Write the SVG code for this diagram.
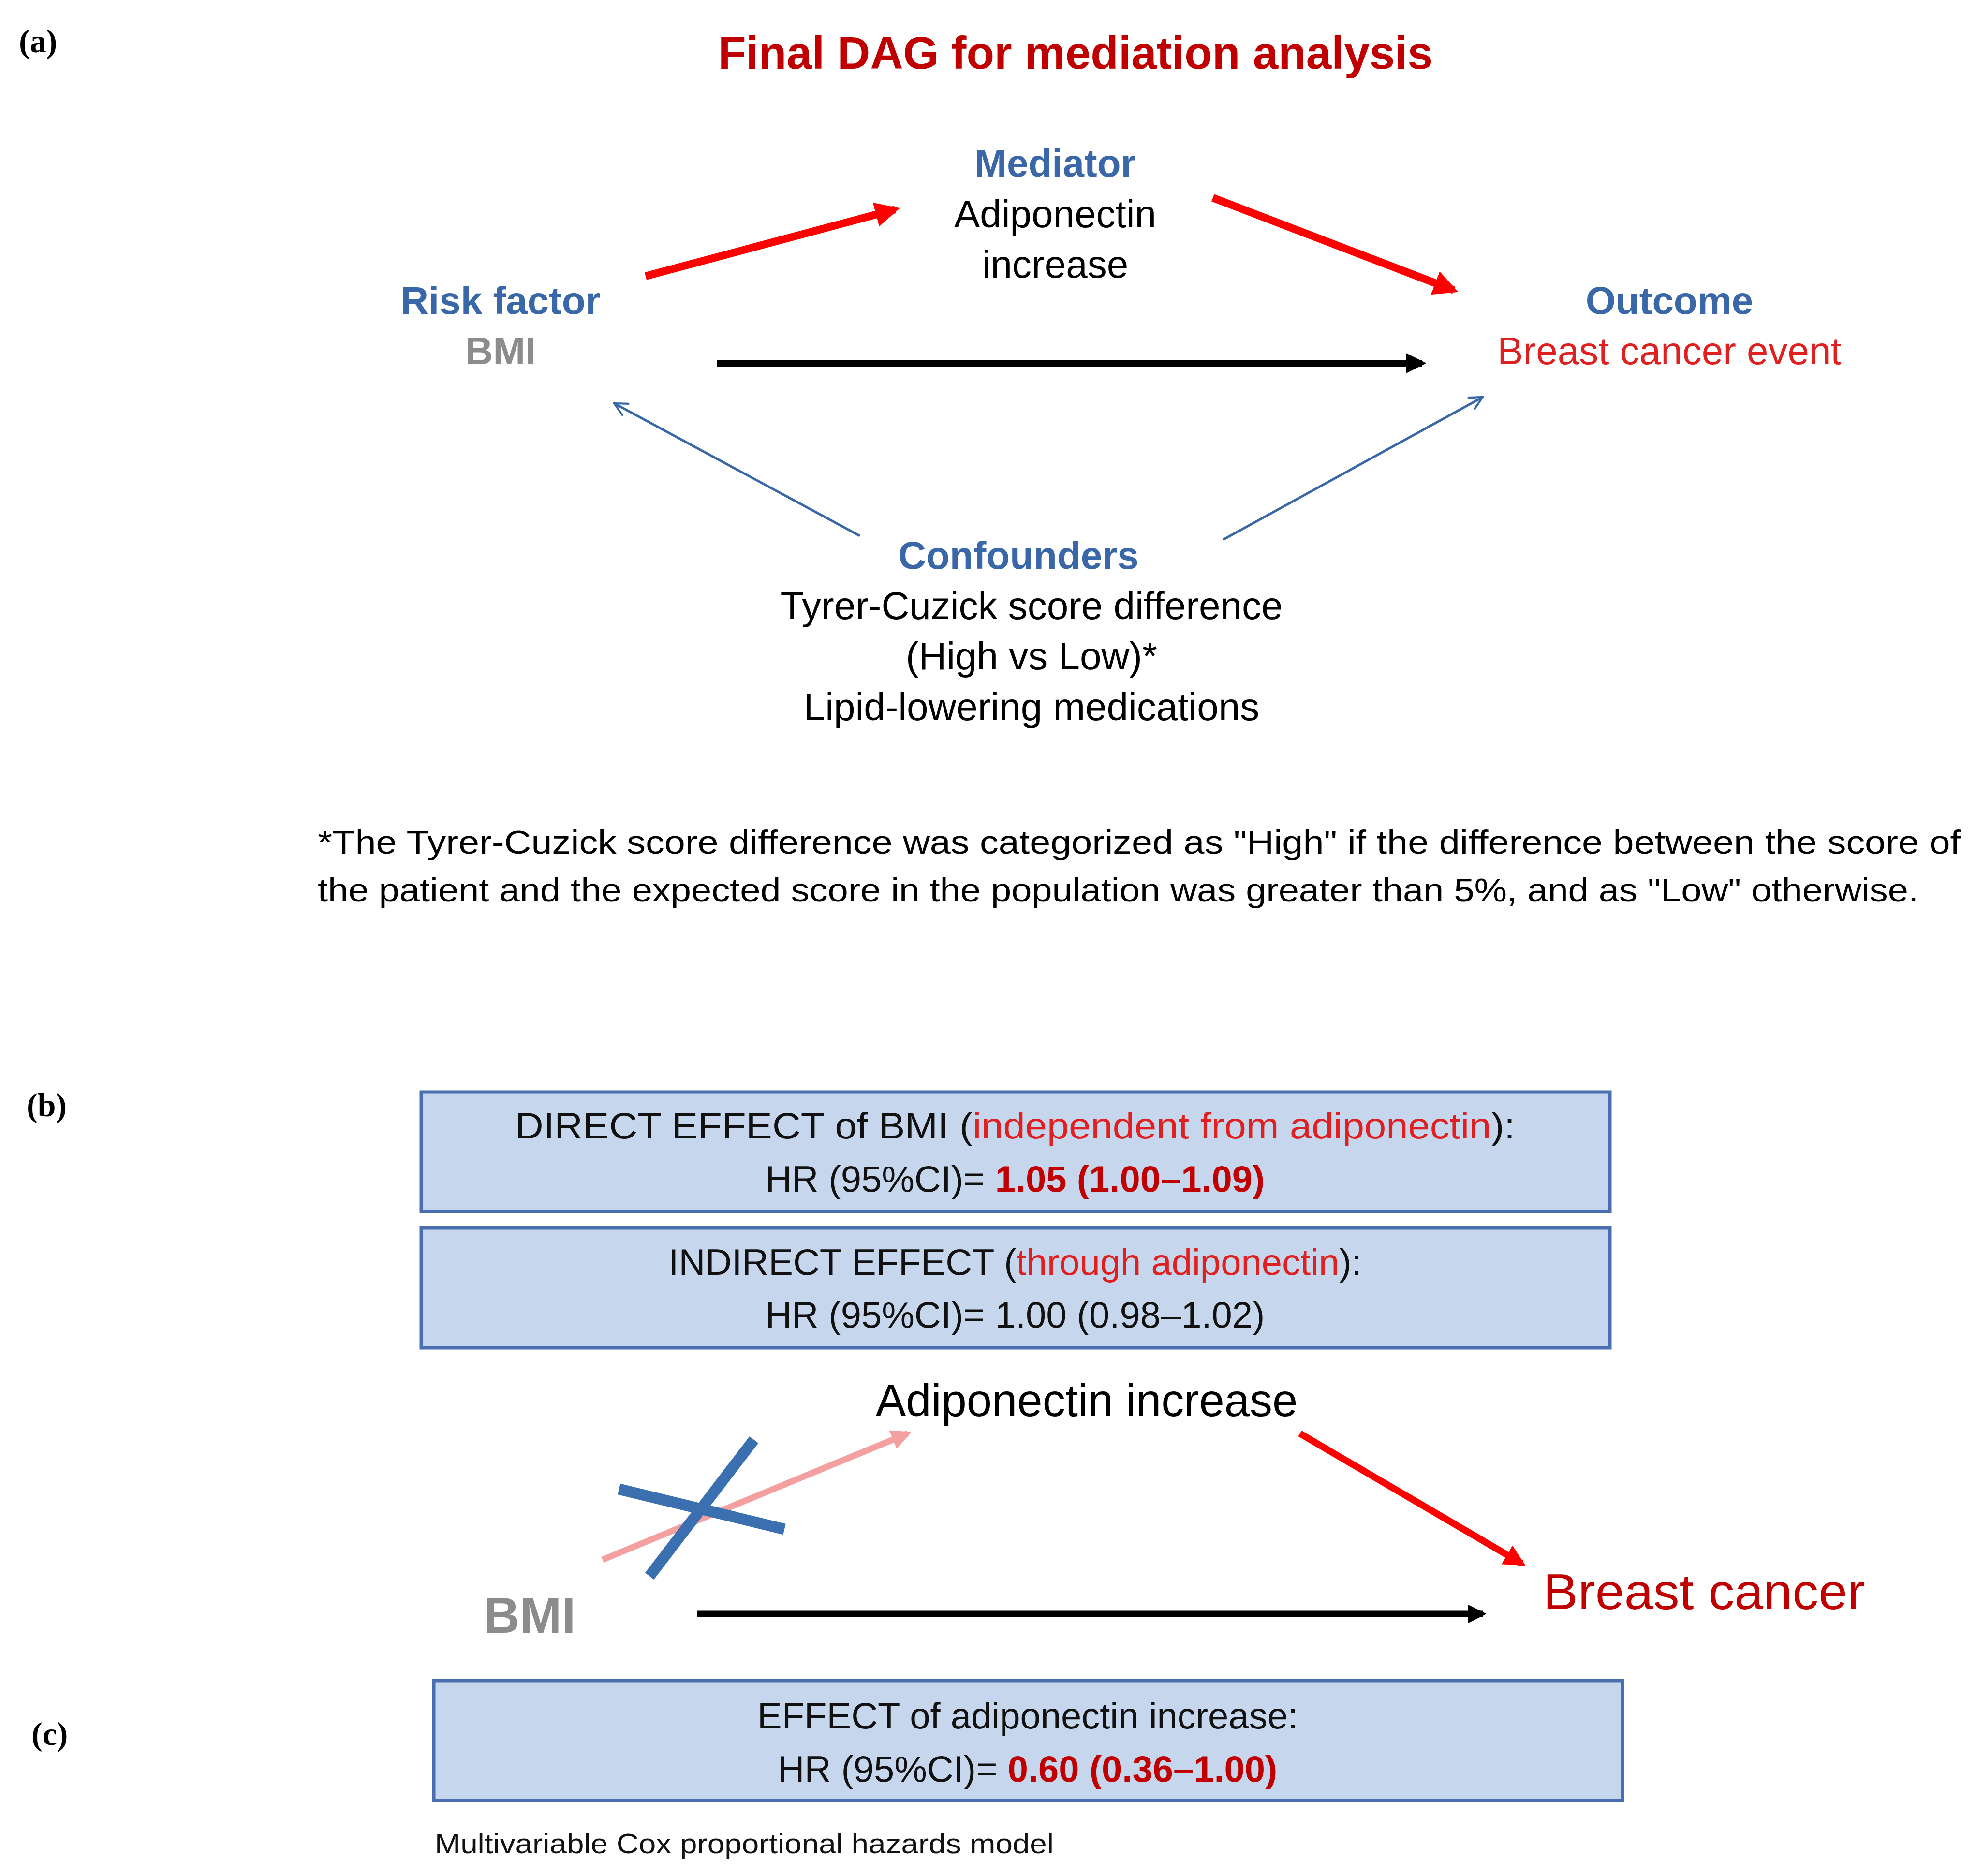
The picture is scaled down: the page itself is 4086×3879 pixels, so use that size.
<svg xmlns="http://www.w3.org/2000/svg" width="4086" height="3879" viewBox="0 0 4086 3879">
<style>
text{font-family:"Liberation Sans",Arial,sans-serif}
.lbl{font-family:"Liberation Serif","Times New Roman",serif;font-weight:bold;font-size:68px}
.hd{fill:#3a67a8;font-weight:bold;font-size:80px;text-anchor:middle}
.bk{fill:#000;font-size:80px;text-anchor:middle}
.box{fill:#c6d6ec;stroke:#4a6fb0;stroke-width:7}
.bt{font-size:76px;text-anchor:middle;fill:#111}
.r{fill:#e02020}
.rb{fill:#c00000;font-weight:bold}
</style>
<defs>
<marker id="tri" viewBox="0 0 10 10" refX="8" refY="5" markerWidth="3.2" markerHeight="3.2" orient="auto" markerUnits="strokeWidth"><path d="M0,0L10,5L0,10z" fill="context-stroke"/></marker>
<marker id="triR" viewBox="0 0 10 10" refX="8" refY="5" markerWidth="3.2" markerHeight="3.2" orient="auto" markerUnits="strokeWidth"><path d="M0,0L10,5L0,10z" fill="#f00"/></marker>
<marker id="triK" viewBox="0 0 10 10" refX="8" refY="5" markerWidth="3" markerHeight="3" orient="auto" markerUnits="strokeWidth"><path d="M0,0L10,5L0,10z" fill="#000"/></marker>
<marker id="triP" viewBox="0 0 10 10" refX="8" refY="5" markerWidth="3.2" markerHeight="3.2" orient="auto" markerUnits="strokeWidth"><path d="M0,0L10,5L0,10z" fill="#f4a0a0"/></marker>
<marker id="open" viewBox="0 0 10 10" refX="9" refY="5" markerWidth="7" markerHeight="7" orient="auto" markerUnits="strokeWidth"><path d="M1,1L9,5L1,9" fill="none" stroke="#3a67a8" stroke-width="1.2"/></marker>
</defs>
<rect width="4086" height="3879" fill="#fff"/>
<text class="lbl" x="39" y="108">(a)</text>
<text class="lbl" x="55" y="2308">(b)</text>
<text class="lbl" x="65" y="3608">(c)</text>
<text x="2224" y="142" text-anchor="middle" font-size="94" font-weight="bold" fill="#c00000" textLength="1478" lengthAdjust="spacingAndGlyphs">Final DAG for mediation analysis</text>
<g id="connectors">
<line x1="1335" y1="571" x2="1851" y2="433" stroke="#f00" stroke-width="16" marker-end="url(#triR)"/>
<line x1="2508" y1="409" x2="3006" y2="600" stroke="#f00" stroke-width="16" marker-end="url(#triR)"/>
<line x1="1483" y1="751" x2="2941" y2="751" stroke="#000" stroke-width="14" marker-end="url(#triK)"/>
<line x1="1778" y1="1108" x2="1270" y2="834" stroke="#3a67a8" stroke-width="5" marker-end="url(#open)"/>
<line x1="2529" y1="1116" x2="3066" y2="821" stroke="#3a67a8" stroke-width="5" marker-end="url(#open)"/>
<line x1="1246" y1="3225" x2="1877" y2="2964" stroke="#f4a0a0" stroke-width="13" marker-end="url(#triP)"/>
<line x1="2688" y1="2964" x2="3147" y2="3233" stroke="#f00" stroke-width="14" marker-end="url(#triR)"/>
<line x1="1442" y1="3337" x2="3066" y2="3337" stroke="#000" stroke-width="13" marker-end="url(#triK)"/>
<line x1="1559" y1="2977" x2="1343" y2="3259" stroke="#3a6fb0" stroke-width="23"/>
<line x1="1280" y1="3079" x2="1622" y2="3162" stroke="#3a6fb0" stroke-width="23"/>
</g>
<g id="mediator">
<text class="hd" x="2182" y="365">Mediator</text>
<text class="bk" x="2182" y="470">Adiponectin</text>
<text class="bk" x="2182" y="574">increase</text>
</g>
<g id="risk">
<text class="hd" x="1035" y="649">Risk factor</text>
<text x="1035" y="753" text-anchor="middle" font-size="80" font-weight="bold" fill="#8c8c8c">BMI</text>
</g>
<g id="outcome">
<text class="hd" x="3452" y="649">Outcome</text>
<text x="3452" y="753" text-anchor="middle" font-size="80" fill="#e02020">Breast cancer event</text>
</g>
<g id="confounders">
<text class="hd" x="2106" y="1176">Confounders</text>
<text class="bk" x="2133" y="1280">Tyrer-Cuzick score difference</text>
<text class="bk" x="2133" y="1384">(High vs Low)*</text>
<text class="bk" x="2133" y="1489">Lipid-lowering medications</text>
</g>
<g id="footnote" font-size="68">
<text x="657" y="1765" textLength="3397" lengthAdjust="spacingAndGlyphs">*The Tyrer-Cuzick score difference was categorized as "High" if the difference between the score of</text>
<text x="657" y="1864" textLength="3310" lengthAdjust="spacingAndGlyphs">the patient and the expected score in the population was greater than 5%, and as "Low" otherwise.</text>
</g>
<g id="direct">
<rect class="box" x="871" y="2258" width="2458" height="247"/>
<text class="bt" x="2099" y="2354" textLength="2068" lengthAdjust="spacingAndGlyphs">DIRECT EFFECT of BMI (<tspan class="r">independent from adiponectin</tspan>):</text>
<text class="bt" x="2099" y="2464">HR (95%CI)= <tspan class="rb">1.05 (1.00–1.09)</tspan></text>
</g>
<g id="indirect">
<rect class="box" x="871" y="2539" width="2458" height="248"/>
<text class="bt" x="2099" y="2636">INDIRECT EFFECT (<tspan class="r">through adiponectin</tspan>):</text>
<text class="bt" x="2099" y="2745">HR (95%CI)= 1.00 (0.98–1.02)</text>
</g>
<g id="adipo">
<text x="2247" y="2928" text-anchor="middle" font-size="94" fill="#000">Adiponectin increase</text>
</g>
<g id="bmi">
<text x="1095" y="3376" text-anchor="middle" font-size="104" font-weight="bold" fill="#8c8c8c">BMI</text>
</g>
<g id="bc">
<text x="3191" y="3327" font-size="104" fill="#c00000" textLength="665" lengthAdjust="spacingAndGlyphs">Breast cancer</text>
</g>
<g id="effect">
<rect class="box" x="897" y="3475" width="2458" height="248"/>
<text class="bt" x="2125" y="3574">EFFECT of adiponectin increase:</text>
<text class="bt" x="2125" y="3684">HR (95%CI)= <tspan class="rb">0.60 (0.36–1.00)</tspan></text>
</g>
<text x="899" y="3832" font-size="57" fill="#111" textLength="1280" lengthAdjust="spacingAndGlyphs">Multivariable Cox proportional hazards model</text>
</svg>
